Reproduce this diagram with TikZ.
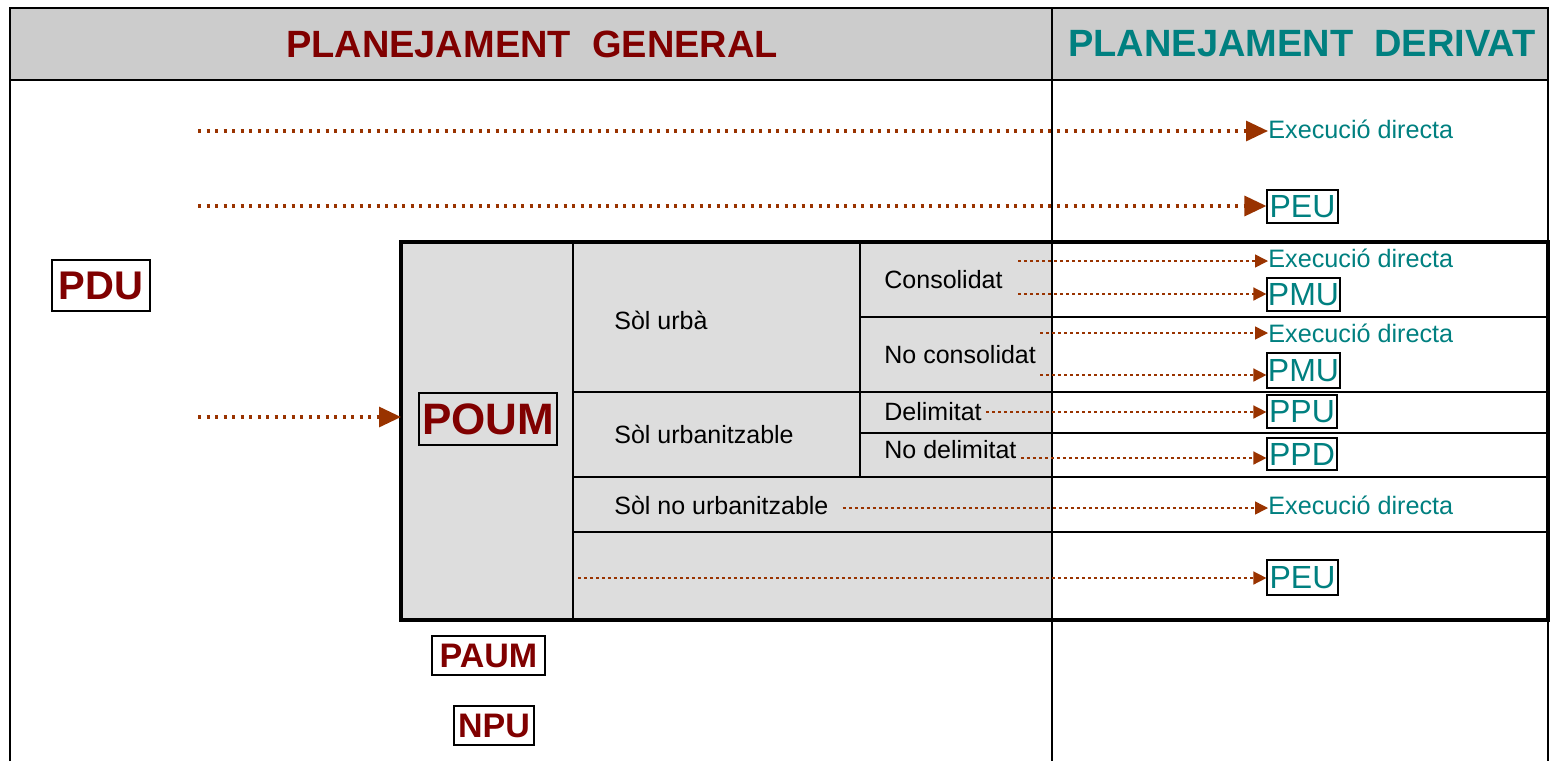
\documentclass[tikz,border=0pt]{standalone}
\usepackage{fontspec}
\setmainfont{Liberation Sans}
\usetikzlibrary{arrows.meta}
\definecolor{planred}{HTML}{800000}
\definecolor{planteal}{HTML}{008080}
\definecolor{arrowbrown}{HTML}{993300}
\definecolor{headgray}{HTML}{CCCCCC}
\definecolor{cellgray}{HTML}{DDDDDD}

\begin{document}
\begin{tikzpicture}[
    x=0.5pt, y=-0.5pt,
    head/.style={%
      inner sep=0pt,
      font=\fontsize{19}{22}\selectfont\bfseries,
    },
    gen/.style={%
      draw,
      rectangle,
      inner sep=0pt,
      line width=0.6pt,
      text=planred,
      font=\fontsize{#1}{24}\selectfont\bfseries,
    },
    der/.style={%
      draw,
      rectangle,
      inner sep=0pt,
      line width=0.6pt,
      text=planteal,
      minimum height=16.5pt,
      font=\fontsize{16}{18}\selectfont,
    },
    lbl/.style={%
      anchor=west,
      inner sep=0pt,
      font=\fontsize{12.5}{15}\selectfont,
    },
    exec/.style={%
      anchor=west,
      inner sep=0pt,
      text=planteal,
      font=\fontsize{12.6}{14}\selectfont,
    },
    bigarrow/.style={%
      arrowbrown,
      line width=1.6pt,
      dash pattern=on 1.6pt off 2.65pt,
      -{Triangle[length=11pt,width=10pt]},
    },
    smallarrow/.style={%
      arrowbrown,
      line width=0.75pt,
      dash pattern=on 1.5pt off 1.5pt,
      -{Triangle[length=6.5pt,width=6.5pt]},
    },
    frame/.style={line width=1.3pt},
    cell/.style={line width=0.6pt},
  ]
    \useasboundingbox (0,0) rectangle (1558,761);

    % header band and outer frame
    \fill [headgray] (10,8) rectangle (1548,80);
    \draw [frame] (10,761) -- (10,8) -- (1548,8) -- (1548,761);
    \draw [frame] (10,80) -- (1548,80);
    \draw [line width=1pt] (1052,8) -- (1052,761);

    % POUM table
    \fill [cellgray] (401,242) rectangle (1052,620);
    \fill [white] (1052,242) rectangle (1548,620);
    \draw [cell] (573,242) -- (573,620);
    \draw [cell] (860,242) -- (860,477);
    \draw [cell] (860,317) -- (1548,317);
    \draw [cell] (573,392) -- (1548,392);
    \draw [cell] (860,433) -- (1548,433);
    \draw [cell] (573,477) -- (1548,477);
    \draw [cell] (573,532) -- (1548,532);
    \draw [line width=1pt] (1052,242) -- (1052,620);
    \draw [line width=1.6pt] (401,242) rectangle (1548,620);

    \node [head, text=planred] (general) at (532,44) {PLANEJAMENT~~GENERAL};
    \node [head, text=planteal] (derivat) at (1302,44) {PLANEJAMENT~~DERIVAT};

    \node [gen=20, minimum width=49pt, minimum height=25.5pt] (PDU) at (101,285.5) {PDU};
    \node [gen=22, minimum width=69pt, minimum height=26pt] (POUM) at (488,419) {POUM};
    \node [gen=17, minimum width=56.5pt, minimum height=19.5pt] (PAUM) at (488.5,655.5) {PAUM};
    \node [gen=17, minimum width=40pt, minimum height=19.5pt] (NPU) at (494,725.5) {NPU};

    \node [lbl] (urba) at (614,320) {Sòl urbà};
    \node [lbl] (urbanitzable) at (614,434) {Sòl urbanitzable};
    \node [lbl] (nourb) at (614,505) {Sòl no urbanitzable};
    \node [lbl] (consolidat) at (884,280) {Consolidat};
    \node [lbl] (noconsolidat) at (884,355) {No consolidat};
    \node [lbl] (delimitat) at (884,412) {Delimitat};
    \node [lbl] (nodelimitat) at (884,450) {No delimitat};

    \node [exec] (exec1) at (1268,129) {Execució directa};
    \node [exec] (exec2) at (1268,258) {Execució directa};
    \node [exec] (exec3) at (1268,333) {Execució directa};
    \node [exec] (exec4) at (1268,505) {Execució directa};
    \node [der, minimum width=35.5pt] (PEUa) at (1302.5,206.5) {PEU};
    \node [der, minimum width=36.5pt] (PMUa) at (1303.5,294.5) {PMU};
    \node [der, minimum width=36.5pt, minimum height=17.5pt] (PMUb) at (1303.5,370.5) {PMU};
    \node [der, minimum width=35pt] (PPU) at (1302,411.5) {PPU};
    \node [der, minimum width=35pt, minimum height=16pt] (PPD) at (1302,454) {PPD};
    \node [der, minimum width=35.5pt, minimum height=17.5pt] (PEUb) at (1302.5,577.5) {PEU};

    % free ends of the arrows
    \coordinate (s1) at (198,131);
    \coordinate (s2) at (198,206);
    \coordinate (s3) at (198,417);
    \coordinate (t3) at (401,417);
    \coordinate (c1) at (1018,261);
    \coordinate (c2) at (1018,294);
    \coordinate (n1) at (1040,333);
    \coordinate (n2) at (1040,375);
    \coordinate (e1) at (578,578);

    \draw [bigarrow] (s1) -- (s1 -| exec1.west);
    \draw [bigarrow] (s2) -- (s2 -| PEUa.west);
    \draw [bigarrow] (s3) -- (t3);

    \draw [smallarrow] (c1) -- (c1 -| exec2.west);
    \draw [smallarrow] (c2) -- (c2 -| PMUa.west);
    \draw [smallarrow] (n1) -- (n1 -| exec3.west);
    \draw [smallarrow] (n2) -- (n2 -| PMUb.west);
    \draw [smallarrow, shorten <=2pt] (delimitat.east) -- (delimitat.east -| PPU.west);
    \draw [smallarrow, shorten <=2pt] ([yshift=-4pt]nodelimitat.east) -- ([yshift=-4pt]nodelimitat.east -| PPD.west);
    \draw [smallarrow, shorten <=7pt] ([yshift=-1.5pt]nourb.east) -- ([yshift=-1.5pt]nourb.east -| exec4.west);
    \draw [smallarrow] (e1) -- (e1 -| PEUb.west);
\end{tikzpicture}
\end{document}
